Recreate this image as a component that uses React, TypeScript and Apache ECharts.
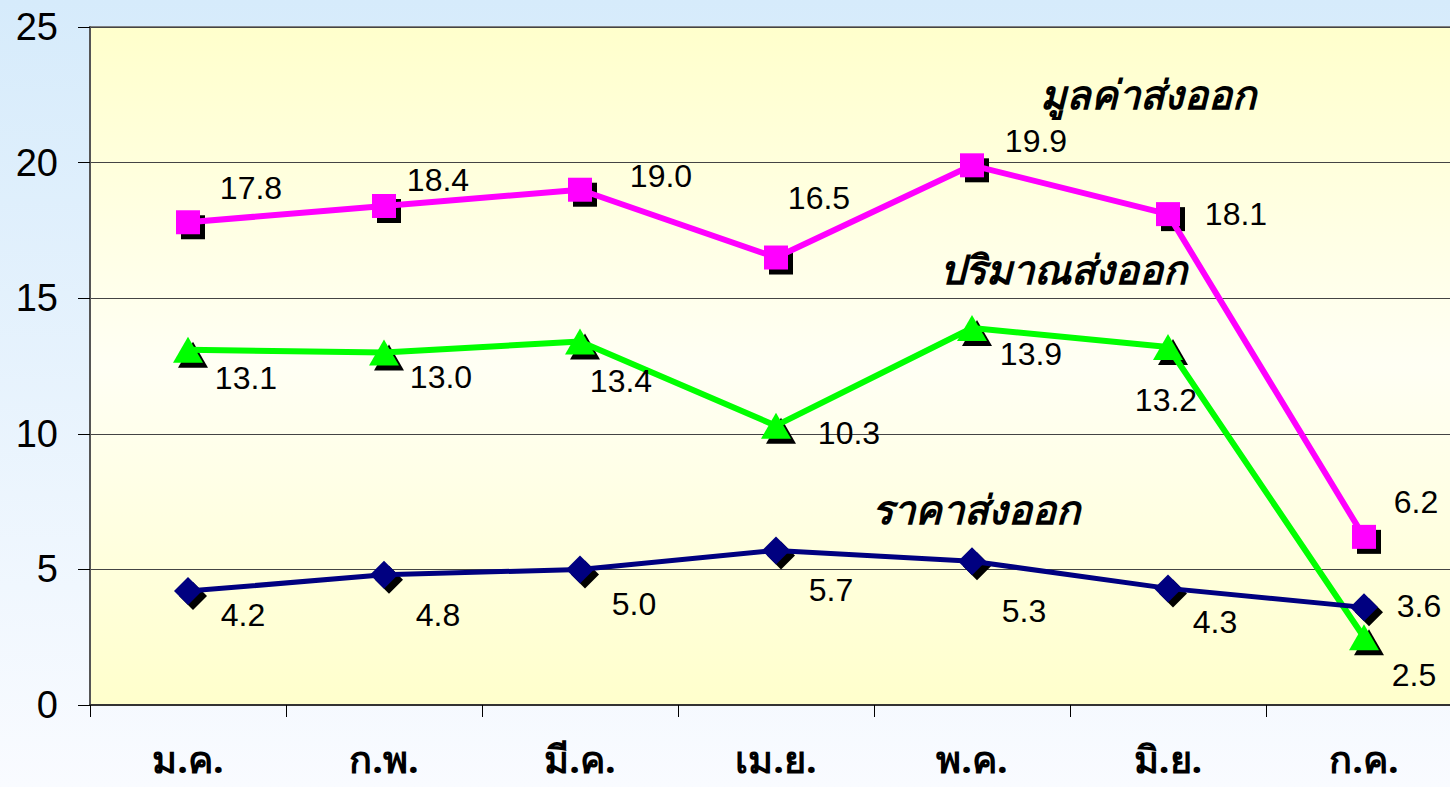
import React, { useEffect, useRef } from "react";
import * as echarts from "echarts";

const categories = ["ม.ค.", "ก.พ.", "มี.ค.", "เม.ย.", "พ.ค.", "มิ.ย.", "ก.ค."];
const exportValue = [17.8, 18.4, 19.0, 16.5, 19.9, 18.1, 6.2];
const exportVolume = [13.1, 13.0, 13.4, 10.3, 13.9, 13.2, 2.5];
const exportPrice = [4.2, 4.8, 5.0, 5.7, 5.3, 4.3, 3.6];
const yTicks = { min: 0, max: 25, interval: 5 };
const seriesNames = ["มูลค่าส่งออก", "ปริมาณส่งออก", "ราคาส่งออก"];

const valueOffsets = [[63, -34], [54, -26], [81, -14], [43, -60], [64, -24], [68, 0], [52, -35]];
const volumeOffsets = [[58, 28], [57, 25], [41, 39], [73, 7], [59, 26], [-2, 53], [50, 38]];
const priceOffsets = [[55, 24], [54, 40], [54, 35], [55, 40], [52, 50], [47, 34], [55, -1]];

const FONT = "'Liberation Sans', Arial, sans-serif";
const THAI = "'Noto Sans', 'DejaVu Sans', sans-serif";

function withLabels(values: number[], offsets: number[][]) {
  return values.map((v, i) => ({
    value: v,
    label: { offset: offsets[i] },
  }));
}

function makeSeries(name: string, values: number[], offsets: number[][], color: string, symbol: string, size: number | number[], width: number) {
  return [
    {
      name: name + "-shadow",
      type: "line",
      data: values,
      symbol,
      symbolSize: size,
      symbolOffset: [5, 5],
      showAllSymbol: true,
      lineStyle: { opacity: 0 },
      itemStyle: { color: "#000", opacity: 1 },
      label: { show: false },
      silent: true,
      z: 2,
    },
    {
      name,
      type: "line",
      data: withLabels(values, offsets),
      symbol,
      symbolSize: size,
      showAllSymbol: true,
      lineStyle: { color, width },
      itemStyle: { color, borderWidth: 0 },
      label: {
        show: true,
        position: "inside",
        formatter: (p: any) => Number(p.value).toFixed(1),
        fontSize: 32,
        fontFamily: FONT,
        color: "#000",
        align: "center",
        verticalAlign: "middle",
      },
      z: 3,
    },
  ];
}

const titleStyle = { fontSize: 40, fontWeight: "bold", fontStyle: "italic", fill: "#000", fontFamily: THAI };

export default function App() {
  const ref = useRef<HTMLDivElement>(null);
  useEffect(() => {
    document.body.style.margin = "0";
    document.body.style.overflow = "hidden";
    const chart = echarts.init(ref.current!, null, { renderer: "svg" });
    chart.setOption({
      animation: false,
      backgroundColor: {
        type: "linear", x: 0, y: 0, x2: 0, y2: 1,
        colorStops: [
          { offset: 0, color: "#d6ebfb" },
          { offset: 1, color: "#f9fbff" },
        ],
      },
      grid: {
        left: 90, top: 27, width: 1372, height: 678,
        show: true,
        borderColor: "#808080",
        borderWidth: 2,
        backgroundColor: {
          type: "linear", x: 0, y: 0, x2: 0, y2: 1,
          colorStops: [
            { offset: 0, color: "#ffffcc" },
            { offset: 0.5, color: "#fffff4" },
            { offset: 1, color: "#ffffcc" },
          ],
        },
      },
      xAxis: {
        type: "category",
        data: categories,
        boundaryGap: true,
        axisLine: { show: true, lineStyle: { color: "#333", width: 2 } },
        axisTick: { show: true, length: 12, lineStyle: { color: "#000", width: 1 } },
        axisLabel: { fontSize: 38, fontWeight: "bold", color: "#000", margin: 34, fontFamily: THAI },
        splitLine: { show: false },
      },
      yAxis: {
        type: "value",
        min: yTicks.min, max: yTicks.max, interval: yTicks.interval,
        axisLine: { show: true, lineStyle: { color: "#555", width: 2 } },
        axisTick: { show: true, length: 12, lineStyle: { color: "#000", width: 1 } },
        axisLabel: { fontSize: 38, color: "#000", margin: 32, fontFamily: FONT },
        splitLine: { show: true, lineStyle: { color: "#444", width: 1 } },
      },
      series: [
        ...makeSeries(seriesNames[0], exportValue, valueOffsets, "#ff00ff", "rect", 24, 6),
        ...makeSeries(seriesNames[1], exportVolume, volumeOffsets, "#00ff00", "triangle", [30, 26], 6),
        ...makeSeries(seriesNames[2], exportPrice, priceOffsets, "#000080", "diamond", [28, 28], 5),
      ],
      graphic: [
        { type: "text", left: 1040, top: 73, style: { text: seriesNames[0], ...titleStyle } },
        { type: "text", left: 940, top: 248, style: { text: seriesNames[1], ...titleStyle } },
        { type: "text", left: 872, top: 488, style: { text: seriesNames[2], ...titleStyle } },
      ],
    });
    return () => chart.dispose();
  }, []);
  return (
    <div style={{ width: 1450, height: 787, overflow: "hidden", position: "relative" }}>
      <div ref={ref} style={{ width: 1475, height: 787 }} />
    </div>
  );
}
